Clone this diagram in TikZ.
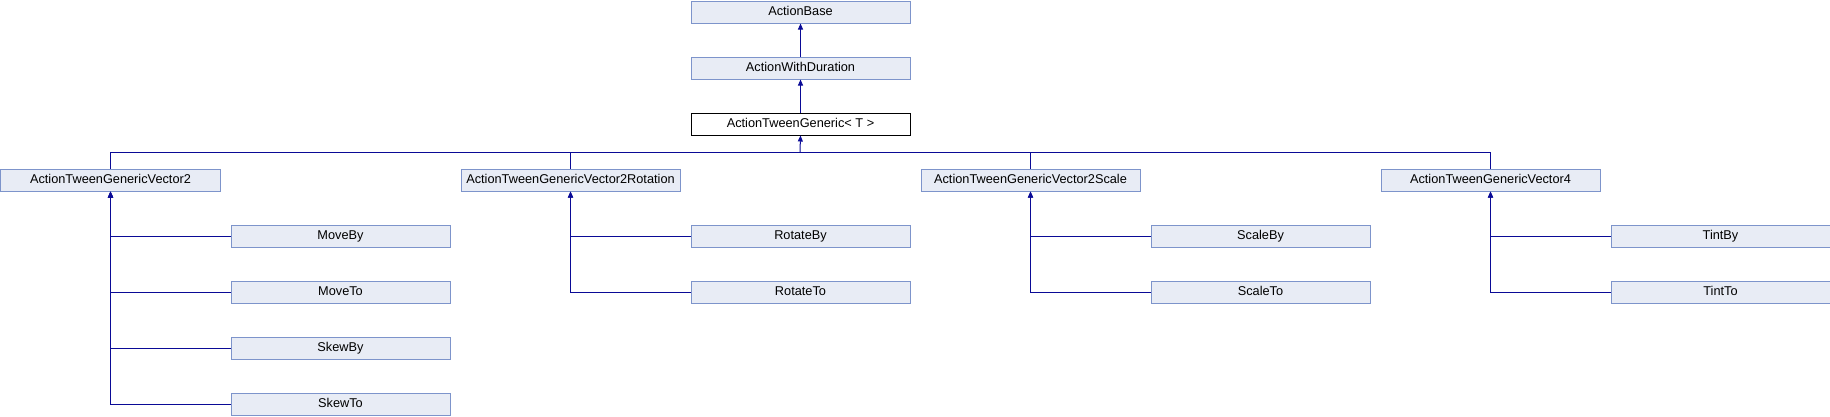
\documentclass[tikz,border=0pt]{standalone}
\usepackage{fontspec}
\setmainfont{Liberation Sans}
\usetikzlibrary{arrows.meta}
\definecolor{boxfill}{RGB}{232,236,245}
\definecolor{boxline}{RGB}{125,148,203}
\definecolor{edgecol}{RGB}{10,10,150}
\begin{document}
\begin{tikzpicture}[x=1bp,y=-1bp,
  cls/.style={draw=boxline, fill=boxfill, line width=1bp, minimum width=219bp, minimum height=22bp,
    inner sep=0pt, text height=9bp, text depth=2.5bp, anchor=north west, font=\fontsize{12.8}{14}\selectfont},
  cur/.style={cls, draw=black, fill=white},
  inh/.style={draw=edgecol, line width=1bp, -{Triangle[width=5bp,length=6bp]}},
  link/.style={draw=edgecol, line width=1bp}
]
\useasboundingbox (0,0) rectangle (1830,416);
% top chain
\node[cls] (base) at (690.5,0.5) {ActionBase};
\node[cls] (dur)  at (690.5,56.5) {ActionWithDuration};
\node[cur] (atg)  at (690.5,112.5) {ActionTweenGeneric< T >};
% second level
\node[cls] (v2)  at (0.5,168.5)    {ActionTweenGenericVector2};
\node[cls] (v2r) at (460.5,168.5)  {ActionTweenGenericVector2Rotation};
\node[cls] (v2s) at (920.5,168.5)  {ActionTweenGenericVector2Scale};
\node[cls] (v4)  at (1380.5,168.5) {ActionTweenGenericVector4};
% leaves
\node[cls] (moveby) at (230.5,224.5) {MoveBy};
\node[cls] (moveto) at (230.5,280.5) {MoveTo};
\node[cls] (skewby) at (230.5,336.5) {SkewBy};
\node[cls] (skewto) at (230.5,392.5) {SkewTo};
\node[cls] (rotby) at (690.5,224.5) {RotateBy};
\node[cls] (rotto) at (690.5,280.5) {RotateTo};
\node[cls] (scaby) at (1150.5,224.5) {ScaleBy};
\node[cls] (scato) at (1150.5,280.5) {ScaleTo};
\node[cls] (tintby) at (1610.5,224.5) {TintBy};
\node[cls] (tintto) at (1610.5,280.5) {TintTo};
% connectors
\draw[inh] (dur.north) -- (base.south);
\draw[inh] (atg.north) -- (dur.south);
\coordinate (bus) at (800,152);
\draw[link] (v2.north) |- (v4.north |- bus) -- (v4.north);
\draw[link] (v2r.north) -- (v2r.north |- bus);
\draw[link] (v2s.north) -- (v2s.north |- bus);
\draw[inh] (bus) -- (atg.south);
\foreach \c/\p in {moveby/v2, moveto/v2, skewby/v2, skewto/v2, rotby/v2r, rotto/v2r, scaby/v2s, scato/v2s, tintby/v4, tintto/v4}
  \draw[inh] (\c.west) -| (\p.south);
\end{tikzpicture}
\end{document}
